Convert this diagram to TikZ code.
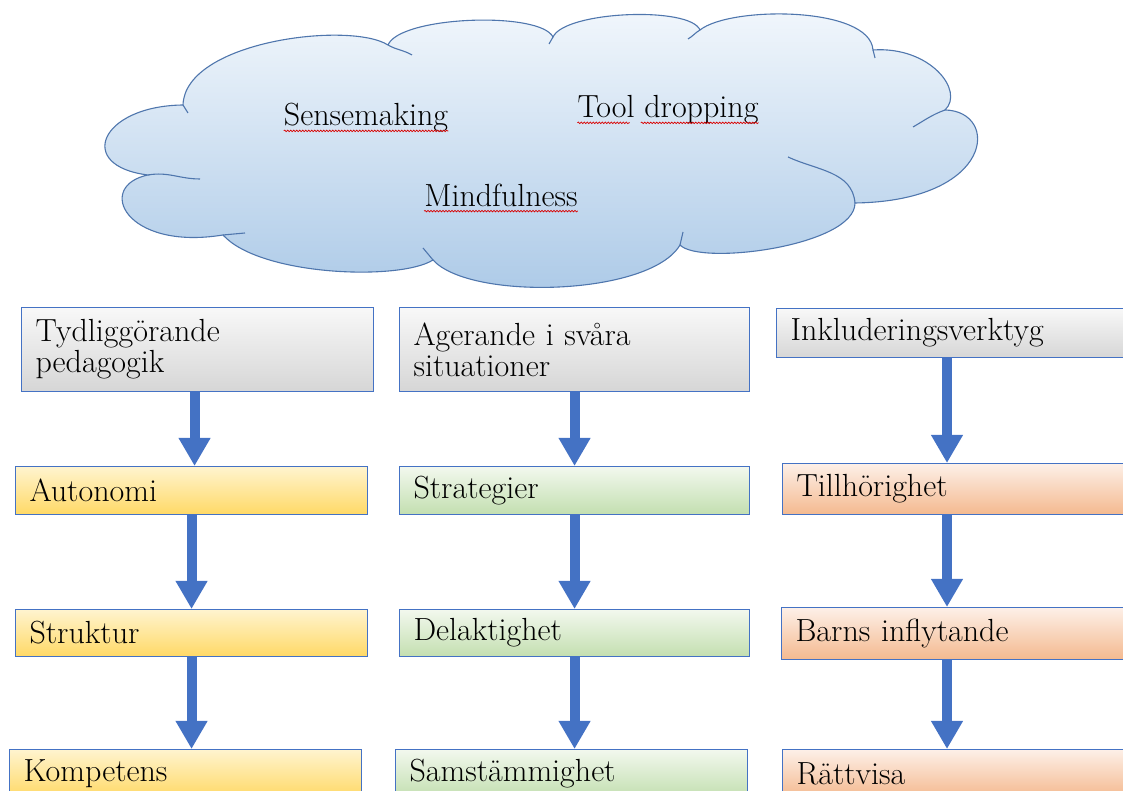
\documentclass[tikz,border=0pt]{standalone}
\usepackage{tikz}
\usetikzlibrary{arrows.meta,decorations.pathmorphing,calc}

\definecolor{edgeblue}{HTML}{4472C4}
\definecolor{cloudline}{HTML}{4F76AD}
\definecolor{cloudtop}{HTML}{F2F7FC}
\definecolor{cloudbot}{HTML}{ABC9E7}
\definecolor{graytop}{HTML}{F8F8F8}
\definecolor{graybot}{HTML}{D6D6D6}
\definecolor{yeltop}{HTML}{FFF4CF}
\definecolor{yelbot}{HTML}{FFD966}
\definecolor{grntop}{HTML}{F2F8EE}
\definecolor{grnbot}{HTML}{C3DFB0}
\definecolor{orgtop}{HTML}{FDF0E8}
\definecolor{orgbot}{HTML}{F4B98F}

\begin{document}
\begin{tikzpicture}[x=1pt,y=1pt,
    every node/.style={font=\fontsize{32}{31}\selectfont},
    box/.style={draw=edgeblue,line width=1.1pt,rectangle,anchor=north west,
      inner xsep=14pt,inner ysep=0pt,align=left,text width=#1},
    box/.default=324pt,
    grey/.style={top color=graytop,bottom color=graybot},
    yel/.style={top color=yeltop,bottom color=yelbot},
    grn/.style={top color=grntop,bottom color=grnbot},
    org/.style={top color=orgtop,bottom color=orgbot},
    flow/.style={draw=edgeblue,line width=10pt,-{Triangle[width=30pt,length=28pt]}},
    puff/.style={draw=cloudline,line width=1.1pt},
    squig/.style={draw=red!85!black,line width=0.7pt,
      decorate,decoration={snake,segment length=3pt,amplitude=0.8pt}},
    word/.style={inner sep=0pt}]
  \useasboundingbox (0,0) rectangle (1123,791);
  \clip (0,0) rectangle (1123,791);

  % the cloud, lobe by lobe
  \path[puff,top color=cloudtop,bottom color=cloudbot]
    (148,616) .. controls (75,625) and (100,685) .. (183,686)
    .. controls (185,750) and (350,770) .. (388,746)
    .. controls (400,775) and (540,780) .. (553,754)
    .. controls (565,780) and (690,785) .. (700,761)
    .. controls (730,785) and (870,785) .. (873,741)
    .. controls (930,745) and (965,700) .. (945,681)
    .. controls (1000,680) and (995,590) .. (855,588)
    .. controls (855,545) and (700,525) .. (680,546)
    .. controls (650,495) and (470,490) .. (433,531)
    .. controls (400,510) and (260,515) .. (223,556)
    .. controls (125,540) and (95,605) .. (148,616) -- cycle;
  % little inner tails
  \draw[puff] (148,616) to[out=10,in=180] (200,612);
  \draw[puff] (183,686) -- (188,678);
  \draw[puff] (388,746) to[out=-30,in=150] (412,736);
  \draw[puff] (553,754) -- (549,747);
  \draw[puff] (700,761) to[out=210,in=30] (688,752);
  \draw[puff] (873,741) -- (875,733);
  \draw[puff] (945,681) to[out=200,in=30] (913,664);
  \draw[puff] (855,588) to[out=95,in=-25] (788,634);
  \draw[puff] (680,546) -- (683,559);
  \draw[puff] (433,531) -- (423,543);
  \draw[puff] (223,556) -- (245,558);

  \node[word] (sm) at (366,673) {Sensemaking};
  \node[word] (td) at (668,681) {Tool dropping};
  \node[word] (mf) at (501,596) {Mindfulness};
  \draw[squig] ([yshift=-5pt]sm.base west) -- ([yshift=-5pt]sm.base east);
  \draw[squig] ([yshift=-5pt]td.base west) -- ([yshift=-5pt]$(td.base west)!0.29!(td.base east)$);
  \draw[squig] ([yshift=-5pt]$(td.base west)!0.35!(td.base east)$) -- ([yshift=-5pt]td.base east);
  \draw[squig] ([yshift=-5pt]mf.base west) -- ([yshift=-5pt]mf.base east);

  % column 1
  \node[box,grey,minimum height=84pt] (t1) at (21,484) {Tydligg\"orande\\pedagogik};
  \node[box,yel,minimum height=48pt] (a1) at (15,325) {Autonomi};
  \node[box,yel,minimum height=47pt] (b1) at (15,182) {Struktur};
  \node[box,yel,minimum height=48pt] (c1) at (9,42) {Kompetens};

  % column 2
  \node[box=322pt,grey,minimum height=84pt] (t2) at (399,484) {Agerande i sv\aa ra\\situationer};
  \node[box=322pt,grn,minimum height=48pt] (a2) at (399,325) {Strategier};
  \node[box=322pt,grn,minimum height=47pt] (b2) at (399,182) {Delaktighet};
  \node[box,grn,minimum height=48pt] (c2) at (395,42) {Samst\"ammighet};

  % column 3
  \node[box=340pt,grey,minimum height=49pt] (t3) at (776,483) {Inkluderingsverktyg};
  \node[box=340pt,org,minimum height=51pt] (a3) at (782,328) {Tillh\"orighet};
  \node[box=340pt,org,minimum height=52pt] (b3) at (781,184) {Barns inflytande};
  \node[box=340pt,org,minimum height=48pt] (c3) at (782,42) {R\"attvisa};

  % arrows
  \draw[flow] ([xshift=-3pt]t1.south) -- ([xshift=-3pt]t1.south |- a1.north);
  \draw[flow] (a1.south) -- (a1.south |- b1.north);
  \draw[flow] (b1.south) -- (b1.south |- c1.north);
  \draw[flow] (t2.south) -- (t2.south |- a2.north);
  \draw[flow] (a2.south) -- (a2.south |- b2.north);
  \draw[flow] (b2.south) -- (b2.south |- c2.north);
  \draw[flow] ([xshift=171pt]t3.south west) -- ([xshift=171pt]t3.south west |- a3.north);
  \draw[flow] ([xshift=165pt]a3.south west) -- ([xshift=165pt]a3.south west |- b3.north);
  \draw[flow] ([xshift=166pt]b3.south west) -- ([xshift=166pt]b3.south west |- c3.north);
\end{tikzpicture}
\end{document}
